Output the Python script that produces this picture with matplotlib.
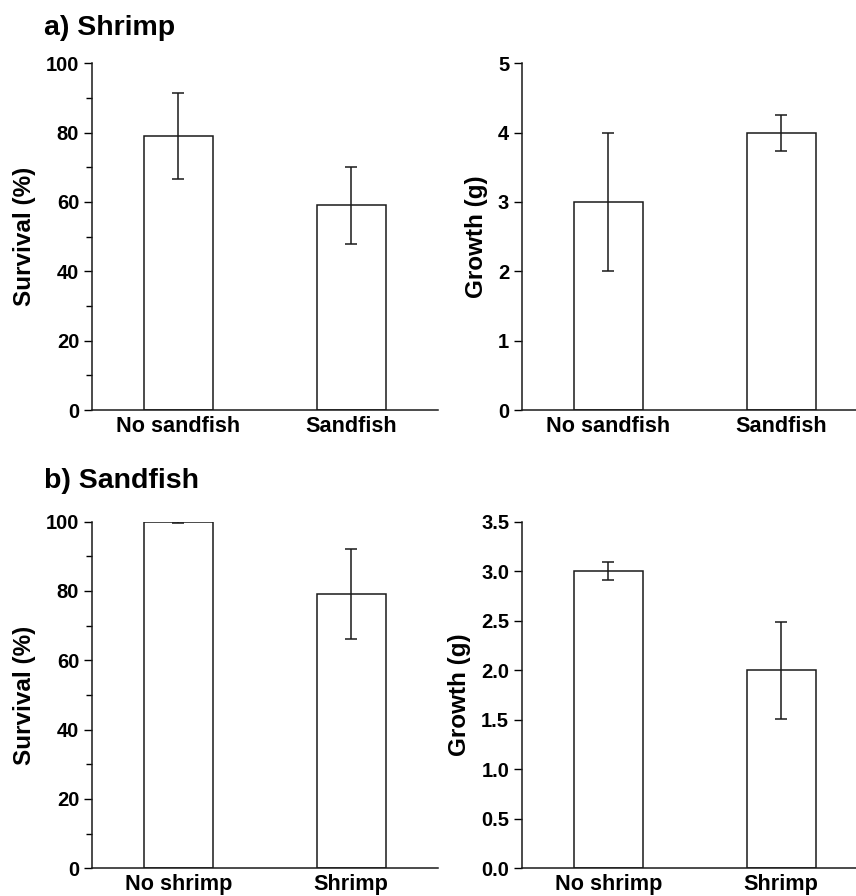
import matplotlib
matplotlib.use("Agg")
import matplotlib.pyplot as plt
from matplotlib.ticker import MultipleLocator

plt.rcParams['font.family'] = ['Liberation Sans', 'DejaVu Sans']
plt.rcParams['font.weight'] = 'bold'

# Data
shrimp_cats = ["No sandfish", "Sandfish"]
shrimp_survival = [79, 59]
shrimp_survival_err = [12.5, 11]
shrimp_growth = [3.0, 4.0]
shrimp_growth_err = [1.0, 0.26]

sandfish_cats = ["No shrimp", "Shrimp"]
sandfish_survival = [100, 79]
sandfish_survival_err = [0.4, 13]
sandfish_growth = [3.0, 2.0]
sandfish_growth_err = [0.09, 0.49]

W, H = 856, 896
fig = plt.figure(figsize=(W / 100, H / 100), dpi=100)

def fx(px):
    return px / W

def fy(px):
    return 1 - px / H

aw = 346 / W
ah = 346.7 / H
axes_specs = [
    (91.7, 410.0, shrimp_cats, shrimp_survival, shrimp_survival_err, "Survival (%)", (0, 100), 20, 10, "{:.0f}"),
    (521.7, 410.0, shrimp_cats, shrimp_growth, shrimp_growth_err, "Growth (g)", (0, 5), 1, None, "{:.0f}"),
    (91.7, 868.3, sandfish_cats, sandfish_survival, sandfish_survival_err, "Survival (%)", (0, 100), 20, 10, "{:.0f}"),
    (521.7, 868.3, sandfish_cats, sandfish_growth, sandfish_growth_err, "Growth (g)", (0, 3.5), 0.5, None, "{:.1f}"),
]

for left, bottom, cats, vals, errs, ylab, ylim, major, minor, fmt in axes_specs:
    ax = fig.add_axes([fx(left), fy(bottom), aw, ah])
    x = list(range(len(cats)))
    ax.bar(x, vals, width=0.4, color="white", edgecolor="#1a1a1a", linewidth=1.1, zorder=2)
    ax.errorbar(x, vals, yerr=errs, fmt="none", ecolor="#1a1a1a", elinewidth=1.1,
                capsize=4.6, capthick=1.1, zorder=3)
    ax.set_xlim(-0.5, 1.5)
    ax.set_ylim(*ylim)
    ax.yaxis.set_major_locator(MultipleLocator(major))
    if minor:
        ax.yaxis.set_minor_locator(MultipleLocator(minor))
    ax.set_yticks(ax.get_yticks())
    ax.set_yticklabels([fmt.format(t) for t in ax.get_yticks()])
    ax.set_ylim(*ylim)
    ax.set_xticks(x)
    ax.set_xticklabels(cats, fontsize=15.6, fontweight="bold")
    ax.tick_params(axis="x", length=0, pad=4)
    ax.tick_params(axis="y", which="major", length=6, width=1.0, labelsize=14.5, pad=3)
    ax.tick_params(axis="y", which="minor", length=4.5, width=1.0)
    for s in ["top", "right"]:
        ax.spines[s].set_visible(False)
    for s in ["left", "bottom"]:
        ax.spines[s].set_linewidth(1.1)
        ax.spines[s].set_color("#1a1a1a")
    ax.set_ylabel(ylab, fontsize=17.5, fontweight="bold", labelpad=7)

fig.text(fx(44), fy(35), "a) Shrimp", fontsize=20.5, fontweight="bold", ha="left", va="baseline")
fig.text(fx(44), fy(488), "b) Sandfish", fontsize=20.5, fontweight="bold", ha="left", va="baseline")

fig.savefig("out.png", dpi=100)
